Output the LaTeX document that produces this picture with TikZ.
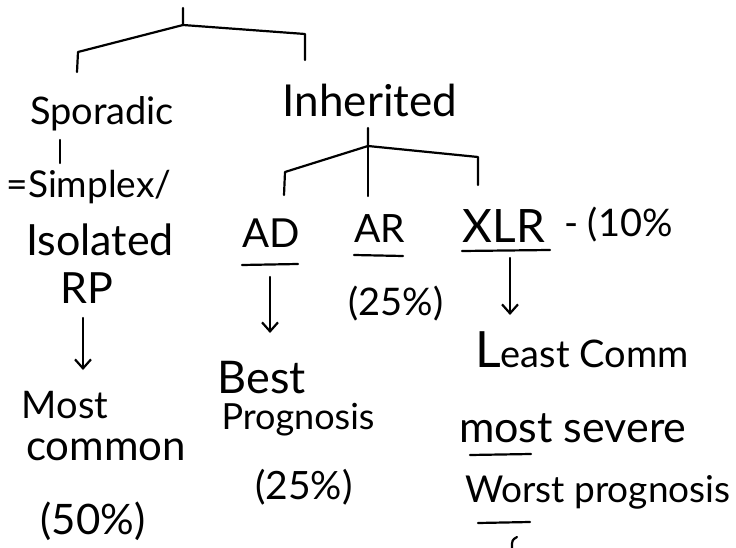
\documentclass[tikz,border=0pt]{standalone}
\usepackage{fontspec}
\setmainfont{Lato}
\usetikzlibrary{arrows.meta}
\begin{document}
\begin{tikzpicture}[x=1pt,y=-1pt,
  line width=2.2pt, line cap=round, line join=round,
  hand/.style={font=\fontsize{#1}{#1}\selectfont, inner sep=0pt, anchor=center},
  hand/.default=38,
  handw/.style={hand=#1, anchor=west},
  handw/.default=38,
  arr/.style={-{Straight Barb[length=9pt,width=16pt,line width=2.2pt]}}]
\useasboundingbox (0,0) rectangle (736,548);

% ---- labels ----
\node[hand=38] (sporadic)  at (102,114) {Sporadic};
\node[hand=44] (inherited) at (370,100) {Inherited};
\node[hand=37] (simplex)   at (89,187)  {=Simplex/};
\node[hand=43] (isolated)  at (100,240) {Isolated};
\node[hand=43] (rp)        at (87,288)  {RP};
\node[hand=38] (most)      at (65,405)  {Most};
\node[hand=42] (common)    at (106,450) {common};
\node[hand=42] (p50)       at (93,521)  {(50\%)};
\node[hand=40] (ad)        at (271,233) {AD};
\node[hand=39] (ar)        at (380,229) {AR};
\node[hand=46] (xlr)       at (504,226) {XLR};
\node[handw=38] (ten)      at (563,225) {- (10\%};
\node[hand=38] (ar25)      at (396,304) {(25\%)};
\node[hand=45] (best)      at (262,378) {Best};
\node[hand=36] (prog)      at (298,420) {Prognosis};
\node[hand=39] (ad25)      at (304,487) {(25\%)};
\node[handw=38] (least)    at (474,350) {{\fontsize{50}{50}\selectfont L}east Comm};
\node[handw=43] (severe)   at (458,428) {most severe};
\node[handw=37] (worst)    at (464,492) {Worst prognosis};

% ---- top split ----
\coordinate (root)   at (183,8);
\coordinate (rootj)  at (183,25);
\coordinate (spoL)   at (78,52);
\coordinate (spoE)   at (77,72);
\coordinate (inhR)   at (305,34);
\coordinate (inhE)   at (305,60);
\draw (root) -- (rootj) -- (spoL) -- (spoE);
\draw (rootj) -- (inhR) -- (inhE);

% stem from Sporadic down to Simplex
\coordinate (spoS) at (60,140);
\coordinate (simN) at (60,163);
\draw (spoS) -- (simN);

% ---- split under Inherited ----
\coordinate (iroot) at (368,128);
\coordinate (ij)    at (368,146);
\coordinate (adL)   at (285,172);
\coordinate (adE)   at (284,195);
\coordinate (arE)   at (368,196);
\coordinate (xlrR)  at (478,157);
\coordinate (xlrE)  at (478,185);
\draw (iroot) -- (ij) -- (adL) -- (adE);
\draw (ij) -- (arE);
\draw (ij) -- (xlrR) -- (xlrE);

% ---- underlines ----
\draw (242,265) -- (298,264);
\draw (354,255) -- (403,256);
\draw (462,251) -- (550,250);
\draw (470,455) -- (531,454);
\draw (478,523) -- (530,522);

% ---- arrows ----
\coordinate (a1s) at (83,318);  \coordinate (a1e) at (83,370);
\coordinate (a2s) at (270,277); \coordinate (a2e) at (270,333);
\coordinate (a3s) at (510,258); \coordinate (a3e) at (510,315);
\draw[arr] (a1s) -- (a1e);
\draw[arr] (a2s) -- (a2e);
\draw[arr] (a3s) -- (a3e);

% stray stroke at the bottom edge
\draw (517,537) .. controls (512,540) .. (512,548);
\end{tikzpicture}
\end{document}
